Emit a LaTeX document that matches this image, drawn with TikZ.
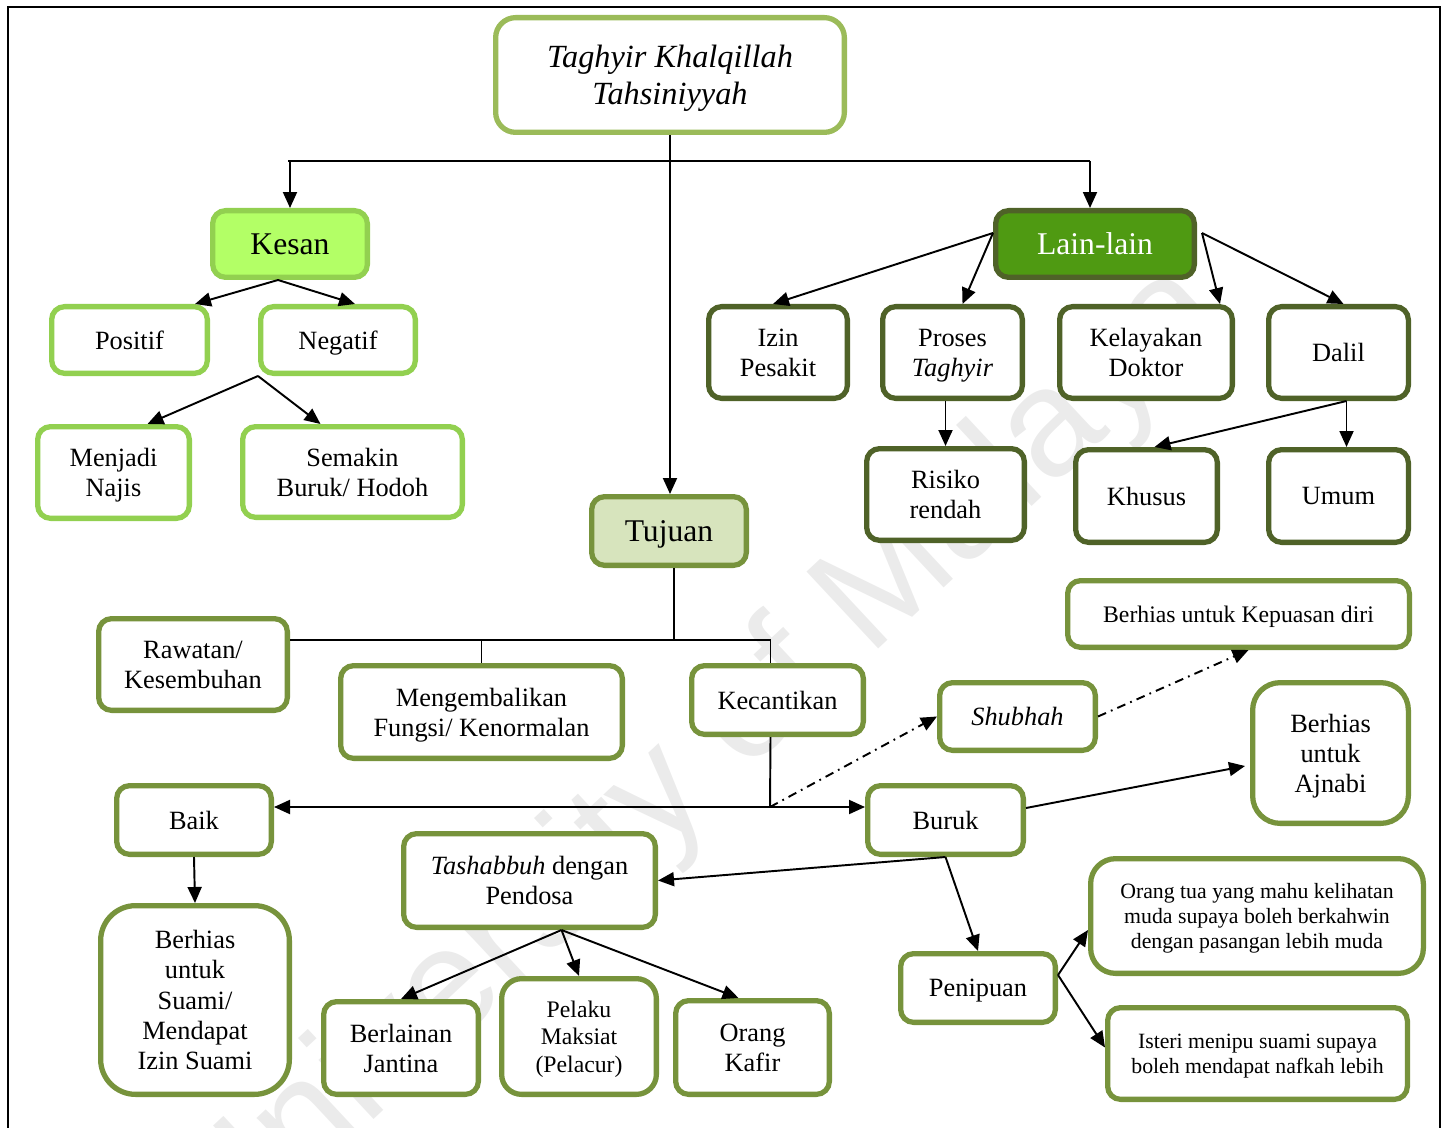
\documentclass[tikz,border=0pt]{standalone}
\usepackage{fontspec}
\setmainfont{Liberation Serif}
\newfontfamily\wmfont{Liberation Sans}
\usetikzlibrary{arrows.meta,calc}
\definecolor{titleline}{HTML}{9BBB59}
\definecolor{limeline}{HTML}{92D050}
\definecolor{kesanfill}{HTML}{B3FF66}
\definecolor{mossline}{HTML}{4F6228}
\definecolor{lainfill}{HTML}{4F9A12}
\definecolor{oliveline}{HTML}{77933C}
\definecolor{tujuanfill}{HTML}{D7E4BD}
\begin{document}
\begin{tikzpicture}[x=0.02cm, y=-0.02cm,
    box/.style 2 args={rectangle, rounded corners=0.26cm, line width=3pt,
      fill=white, align=center, inner sep=0pt, text depth=0pt,
      minimum width=#1*0.02cm-3pt, minimum height=#2*0.02cm-3pt,
      font=\fontsize{15}{17}\selectfont},
    lime/.style={draw=limeline},
    moss/.style={draw=mossline},
    olive/.style={draw=oliveline},
    big/.style={font=\fontsize{18}{21}\selectfont},
    small/.style={font=\fontsize{13.5}{15.6}\selectfont},
    tiny/.style={font=\fontsize{12.4}{14}\selectfont},
    link/.style={line width=1.1pt},
    arr/.style={link, -{Triangle[length=0.32cm,width=0.28cm]}},
    arrboth/.style={link, {Triangle[length=0.32cm,width=0.28cm]}-{Triangle[length=0.32cm,width=0.28cm]}},
    dashdot/.style={arr, dash pattern=on 5pt off 3pt on 1pt off 3pt}]
  \useasboundingbox (0,0) rectangle (1446,1128);
  % watermark and frame
  \node[rotate=43, text=black!8, font=\wmfont\fontsize{87}{87}\selectfont] (watermark) at (700,762) {University of Malaya};
  \draw[line width=1.6pt] (8,1140) -- (8,7) -- (1440,7) -- (1440,1140);
  % nodes at the top
  \node[box={354}{120}, draw=titleline, rounded corners=0.4cm, font=\itshape\fontsize{18.4}{21}\selectfont] (title) at (670,75) {Taghyir Khalqillah\\Tahsiniyyah};
  \node[box={160}{72}, draw=limeline, fill=kesanfill, big]        (kesan)   at (290,244)    {Kesan};
  \node[box={204}{72}, moss, fill=lainfill, text=white, big]       (lain)    at (1095,244)   {Lain-lain};
  % kesan
  \node[box={161}{72}, lime]  (positif)  at (129.5,340)   {Positif};
  \node[box={160}{72}, lime]  (negatif)  at (338,340)     {Negatif};
  \node[box={157}{97}, lime]  (najis)    at (113.5,472.5) {Menjadi\\Najis};
  \node[box={225}{96}, lime]  (hodoh)    at (352.5,472)   {Semakin\\Buruk/ Hodoh};
  % lain-lain
  \node[box={144}{97}, moss]  (izin)     at (778,352.5)    {Izin\\Pesakit};
  \node[box={145}{97}, moss]  (proses)   at (952.5,352.5)  {Proses\\\textit{Taghyir}};
  \node[box={178}{97}, moss]  (doktor)   at (1146,352.5)   {Kelayakan\\Doktor};
  \node[box={145}{97}, moss]  (dalil)    at (1338.5,352.5) {Dalil};
  \node[box={163}{97}, moss]  (risiko)   at (945.5,494.5)  {Risiko\\rendah};
  \node[box={147}{98}, moss]  (khusus)   at (1146.5,496)   {Khusus};
  \node[box={145}{98}, moss]  (umum)     at (1338.5,496)   {Umum};
  % tujuan
  \node[box={160}{74}, olive, fill=tujuanfill, big] (tujuan) at (669,531) {Tujuan};
  \node[box={194}{97}, olive]  (rawatan)   at (193,664.5)    {Rawatan/\\Kesembuhan};
  \node[box={287}{98}, olive]  (fungsi)    at (481.5,712)    {Mengembalikan\\Fungsi/ Kenormalan};
  \node[box={177}{74}, olive]  (cantik)    at (777.5,700)    {Kecantikan};
  \node[box={347}{72}, olive, small] (kepuasan) at (1238.5,614) {Berhias untuk Kepuasan diri};
  \node[box={161}{73}, olive]  (shubhah)   at (1017.5,716.5) {\textit{Shubhah}};
  \node[box={161}{146}, olive, rounded corners=0.55cm] (ajnabi) at (1330.5,753) {Berhias\\untuk\\Ajnabi};
  \node[box={160}{74}, olive]  (baik)      at (194,820)      {Baik};
  \node[box={161}{74}, olive]  (buruk)     at (945.5,820)    {Buruk};
  \node[box={257}{99}, olive]  (tashabbuh) at (529.5,880.5)  {\textit{Tashabbuh} dengan\\Pendosa};
  \node[box={194}{194}, olive, rounded corners=0.7cm, font=\fontsize{15}{17.3}\selectfont] (suami) at (195,1000) {Berhias\\untuk\\Suami/\\Mendapat\\Izin Suami};
  \node[box={160}{98}, olive]  (jantina)   at (401,1048)     {Berlainan\\Jantina};
  \node[box={160}{121}, olive, rounded corners=0.4cm, small] (pelaku) at (579,1036.5) {Pelaku\\Maksiat\\(Pelacur)};
  \node[box={159}{99}, olive]  (kafir)     at (752.5,1047.5) {Orang\\Kafir};
  \node[box={160}{74}, olive]  (penipuan)  at (978,988)      {Penipuan};
  \node[box={338}{120}, olive, rounded corners=0.5cm, tiny] (orangtua) at (1257,916) {Orang tua yang mahu kelihatan\\muda supaya boleh berkahwin\\dengan pasangan lebih muda};
  \node[box={305}{97}, olive, tiny] (isteri) at (1257.5,1053.5) {Isteri menipu suami supaya\\boleh mendapat nafkah lebih};
  % connectors from the title
  \coordinate (barL) at (288,161);
  \coordinate (barR) at (1090,161);
  \draw[link] (barL) -- (barR);
  \draw[arr] (title.south) -- (title.south |- tujuan.north);
  \draw[arr] (barL -| kesan.north) -- (kesan.north);
  \draw[arr] (barR) -- (barR |- lain.north);
  % kesan
  \coordinate (kesanfork) at ($(kesan.south)+(-12,0)$);
  \draw[arr] (kesanfork) -- ($(positif.north east)+(-15,0)$);
  \draw[arr] (kesanfork) -- ($(negatif.north)+(17,0)$);
  \draw[arr] (negatif.south west) -- ($(najis.north)+(34,0)$);
  \draw[arr] (negatif.south west) -- ($(hodoh.north)+(-32,0)$);
  % lain-lain
  \coordinate (lainL) at ($(lain.west)+(0,-11)$);
  \coordinate (lainR) at ($(lain.east)+(5,-11)$);
  \draw[arr] (lainL) -- ($(izin.north)+(-5,0)$);
  \draw[arr] (lainL) -- ($(proses.north)+(10,0)$);
  \draw[arr] (lainR) -- ($(doktor.north east)+(-15,0)$);
  \draw[arr] (lainR) -- ($(dalil.north)+(5,0)$);
  \draw[arr] (risiko.north |- proses.south) -- (risiko.north);
  \coordinate (dalilfork) at ($(dalil.south)+(8,0)$);
  \draw[arr] (dalilfork) -- ($(khusus.north)+(8,0)$);
  \draw[arr] (dalilfork) -- (dalilfork |- umum.north);
  % tujuan
  \coordinate (tujuanbar) at (674,640);
  \draw[link] ($(tujuan.south)+(5,0)$) -- (tujuanbar);
  \draw[link] (rawatan.east |- tujuanbar) -| ($(cantik.north)+(-7,0)$);
  \draw[link] (tujuanbar -| fungsi.north) -- (fungsi.north);
  % kecantikan
  \coordinate (cantikfork) at (770,807);
  \draw[link] ($(cantik.south)+(-7,0)$) -- (cantikfork);
  \draw[arrboth] (baik.east |- cantikfork) -- (buruk.west |- cantikfork);
  \draw[dashdot] (cantikfork) -- (shubhah.west);
  \draw[dashdot] (shubhah.east) -- ($(kepuasan.south)+(10,0)$);
  % buruk
  \draw[arr] ($(buruk.east)+(0,-12)$) -- ($(ajnabi.west)+(-5,13)$);
  \draw[arr] (buruk.south) -- (tashabbuh.east);
  \draw[arr] (buruk.south) -- (penipuan.north);
  \coordinate (penipuanfork) at ($(penipuan.east)+(0,-13)$);
  \draw[arr] (penipuanfork) -- ($(orangtua.west)+(0,14)$);
  \draw[arr] (penipuanfork) -- ($(isteri.west)+(0,-6)$);
  % baik and tashabbuh
  \draw[arr] (baik.south) -- (suami.north);
  \coordinate (tashabbuhfork) at ($(tashabbuh.south)+(32,0)$);
  \draw[arr] (tashabbuhfork) -- (jantina.north);
  \draw[arr] (tashabbuhfork) -- (pelaku.north);
  \draw[arr] (tashabbuhfork) -- ($(kafir.north)+(-14,0)$);
\end{tikzpicture}
\end{document}
